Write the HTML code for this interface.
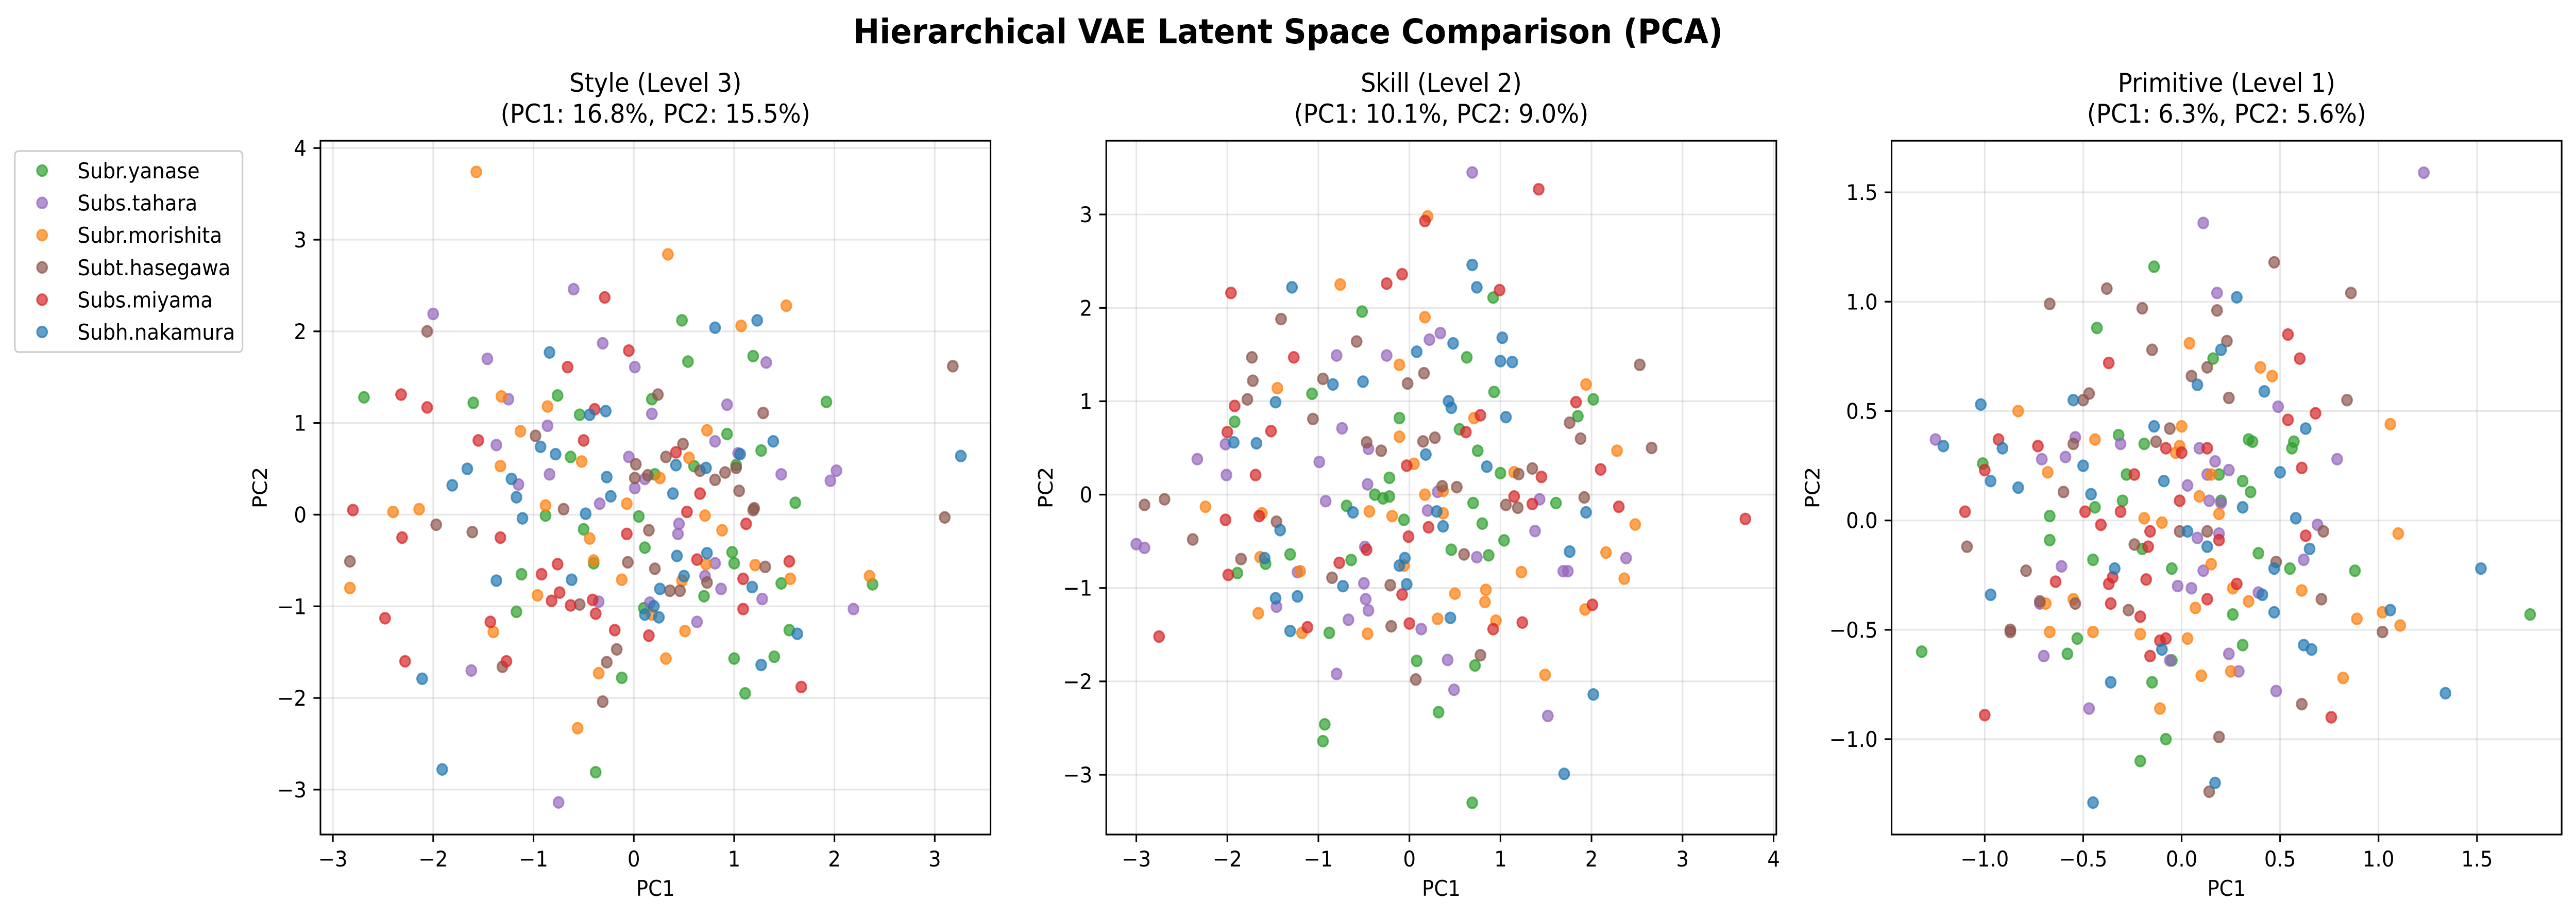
<!DOCTYPE html>
<html><head><meta charset="utf-8">
<style>
html,body{margin:0;padding:0;background:#fff;overflow:hidden;width:100vw;height:100vh;}
svg{display:block;width:100vw;height:100vh;font-family:"DejaVu Sans","Liberation Sans",sans-serif;}
</style></head>
<body>
<svg id="fig" xmlns="http://www.w3.org/2000/svg" viewBox="0 0 5386 1779" preserveAspectRatio="none">
<rect x="0" y="0" width="5386" height="1779" fill="#fff"/>
<text x="2693" y="84" text-anchor="middle" font-size="66" font-weight="bold">Hierarchical VAE Latent Space Comparison (PCA)</text>
<g id="legend"></g>
</svg>
<script>
const categories = ["Subr.yanase","Subs.tahara","Subr.morishita","Subt.hasegawa","Subs.miyama","Subh.nakamura"];
const panelTitles = ["Style (Level 3)","Skill (Level 2)","Primitive (Level 1)"];
const panelSubtitles = ["(PC1: 16.8%, PC2: 15.5%)","(PC1: 10.1%, PC2: 9.0%)","(PC1: 6.3%, PC2: 5.6%)"];
const xTicks1 = [-3,-2,-1,0,1,2,3];
const yTicks1 = [-3,-2,-1,0,1,2,3,4];
const xTicks2 = [-3,-2,-1,0,1,2,3,4];
const yTicks2 = [-3,-2,-1,0,1,2,3];
const xTicks3 = [-1.0,-0.5,0.0,0.5,1.0,1.5];
const yTicks3 = [-1.0,-0.5,0.0,0.5,1.0,1.5];
const xLim1 = [-3.124,3.556], yLim1 = [-3.49,4.08];
const xLim2 = [-3.33,4.03], yLim2 = [-3.64,3.79];
const xLim3 = [-1.473,1.93], yLim3 = [-1.436,1.736];

// Panel 1: Style
const styleYanase = [[-2.69,1.28],[-1.60,1.22],[-0.76,1.30],[-0.54,1.09],[-0.63,0.63],[0.18,1.26],[0.48,2.12],[0.54,1.67],[1.19,1.73],[1.92,1.23],[0.93,0.88],[1.27,0.70],[0.60,0.53],[0.21,0.44],[1.02,0.54],[1.61,0.13],[0.05,-0.02],[-0.88,-0.01],[-0.50,-0.16],[0.11,-0.36],[-0.40,-0.53],[-1.12,-0.65],[0.98,-0.41],[1.00,-0.53],[0.70,-0.89],[1.47,-0.75],[2.38,-0.76],[-1.17,-1.06],[0.10,-1.02],[1.00,-1.57],[1.40,-1.55],[1.55,-1.26],[1.11,-1.95],[-0.12,-1.78],[-0.38,-2.81]];
const styleTahara = [[-2.00,2.19],[-1.46,1.70],[-0.60,2.46],[-0.31,1.87],[0.01,1.61],[-1.25,1.26],[-0.86,0.97],[-1.37,0.76],[-1.15,0.33],[-0.84,0.44],[0.18,1.10],[-0.05,0.63],[0.01,0.29],[-0.34,0.12],[0.11,0.39],[0.93,1.20],[1.32,1.66],[0.81,0.80],[1.04,0.67],[1.47,0.44],[2.02,0.48],[1.96,0.37],[0.45,-0.10],[0.44,-0.21],[0.81,-0.53],[0.71,-0.67],[0.87,-0.81],[1.28,-0.92],[2.19,-1.03],[-0.35,-0.95],[0.16,-0.96],[0.63,-1.17],[-1.62,-1.70],[-0.75,-3.14]];
const styleMorishita = [[-1.57,3.74],[0.34,2.84],[1.52,2.28],[1.07,2.06],[-1.32,1.29],[-0.86,1.18],[-1.13,0.91],[-1.33,0.53],[-0.52,0.58],[0.26,0.40],[0.73,0.92],[0.55,0.62],[-0.88,0.10],[-0.07,0.12],[0.71,-0.01],[0.88,-0.17],[-2.40,0.03],[-2.14,0.06],[-2.83,-0.80],[-0.44,-0.26],[-0.40,-0.50],[-0.12,-0.71],[-0.96,-0.88],[-1.40,-1.28],[0.72,-0.54],[0.48,-0.72],[1.21,-0.55],[1.56,-0.70],[2.35,-0.67],[0.51,-1.27],[0.32,-1.57],[-0.35,-1.73],[-0.56,-2.33],[0.18,-1.09]];
const styleHasegawa = [[-2.06,2.00],[0.24,1.31],[-0.98,0.86],[0.02,0.55],[0.49,0.77],[0.32,0.63],[0.01,0.40],[0.14,0.43],[0.66,0.48],[0.81,0.38],[0.91,0.46],[1.02,0.51],[1.05,0.26],[1.20,0.07],[1.19,0.05],[1.29,1.11],[3.18,1.62],[3.10,-0.03],[-0.70,0.06],[-1.97,-0.11],[-1.61,-0.19],[0.15,-0.17],[-2.83,-0.51],[-0.06,-0.52],[0.21,-0.59],[0.73,-0.74],[1.31,-0.57],[0.36,-0.83],[0.46,-0.83],[-0.54,-0.98],[-0.17,-1.47],[-0.27,-1.61],[-1.31,-1.66],[-0.31,-2.04]];
const styleMiyama = [[-2.32,1.31],[-2.06,1.17],[-1.55,0.81],[-0.29,2.37],[-0.05,1.79],[-0.66,1.61],[-0.39,1.15],[-0.50,0.81],[0.42,0.68],[0.66,0.23],[0.53,0.03],[1.12,-0.10],[-2.80,0.05],[-2.31,-0.25],[-1.33,-0.25],[-0.07,-0.21],[-0.76,-0.54],[-0.92,-0.65],[-0.74,-0.85],[-0.82,-0.94],[-0.63,-0.99],[-0.41,-0.93],[-0.38,-1.08],[0.63,-0.49],[1.09,-0.70],[1.55,-0.51],[1.09,-1.03],[-2.48,-1.13],[-1.43,-1.17],[-0.19,-1.26],[0.15,-1.32],[-2.28,-1.60],[-1.27,-1.60],[1.67,-1.88]];
const styleNakamura = [[-0.84,1.77],[0.81,2.04],[1.23,2.12],[-0.44,1.09],[-0.28,1.13],[-0.93,0.74],[-0.78,0.66],[-1.66,0.50],[-1.81,0.32],[-1.22,0.39],[-1.17,0.19],[-0.27,0.41],[-0.23,0.20],[-0.48,0.01],[-1.11,-0.04],[0.42,0.54],[0.39,0.23],[0.72,0.51],[1.06,0.66],[1.39,0.80],[3.26,0.64],[-1.37,-0.72],[-0.62,-0.71],[0.43,-0.45],[0.73,-0.42],[0.50,-0.67],[0.26,-0.81],[1.18,-0.79],[0.11,-1.09],[0.20,-1.00],[0.25,-1.12],[1.63,-1.30],[1.27,-1.64],[-2.11,-1.79],[-1.91,-2.78]];

// Panel 2: Skill
const skillYanase = [[-0.52,1.96],[0.92,2.11],[0.63,1.47],[0.93,1.10],[-1.07,1.08],[-1.92,0.78],[-0.11,0.82],[0.55,0.70],[0.75,0.47],[1.00,0.23],[1.85,0.84],[2.02,1.02],[-0.22,0.18],[-0.38,0.00],[-0.29,-0.04],[-0.22,-0.02],[-0.69,-0.12],[-0.06,-0.27],[0.70,-0.09],[0.80,-0.31],[1.61,-0.09],[1.04,-0.49],[0.46,-0.59],[0.87,-0.65],[-1.31,-0.64],[-1.58,-0.74],[-1.89,-0.84],[-0.64,-0.70],[-0.88,-1.48],[0.08,-1.78],[0.72,-1.83],[0.32,-2.33],[-0.93,-2.46],[-0.95,-2.64],[0.69,-3.30]];
const skillTahara = [[0.69,3.45],[0.34,1.73],[0.22,1.66],[-0.80,1.49],[-0.25,1.49],[-0.74,0.71],[-2.02,0.54],[-0.45,0.49],[-2.33,0.38],[-0.99,0.35],[-2.01,0.21],[-0.46,0.11],[-0.92,-0.07],[0.31,0.03],[0.20,-0.17],[1.43,-0.05],[1.38,-0.39],[-3.00,-0.53],[-2.91,-0.57],[-0.49,-0.56],[-1.23,-0.83],[0.74,-0.67],[1.69,-0.82],[1.74,-0.82],[2.38,-0.68],[-0.50,-0.95],[-0.48,-1.12],[-0.45,-1.24],[-1.46,-1.20],[-0.67,-1.34],[0.13,-1.44],[0.42,-1.77],[-0.80,-1.92],[0.49,-2.09],[1.52,-2.37]];
const skillMorishita = [[0.20,2.98],[-0.76,2.25],[0.17,1.90],[-0.11,1.39],[-1.45,1.14],[0.71,0.82],[-0.11,0.62],[0.05,0.33],[0.17,0.00],[0.37,0.04],[0.37,-0.20],[-0.44,-0.18],[-0.19,-0.23],[-2.24,-0.13],[-1.62,-0.20],[1.15,0.24],[1.94,1.18],[2.28,0.47],[2.48,-0.32],[2.16,-0.62],[2.36,-0.90],[1.23,-0.83],[-0.06,-0.76],[-1.64,-0.67],[-1.20,-0.82],[-1.66,-1.27],[-1.18,-1.48],[-0.46,-1.49],[0.31,-1.33],[0.50,-1.06],[0.84,-1.02],[0.83,-1.15],[0.95,-1.35],[1.93,-1.23],[1.49,-1.93]];
const skillHasegawa = [[-1.41,1.88],[-0.58,1.64],[-1.73,1.47],[-1.72,1.22],[-0.95,1.24],[-1.78,1.02],[-0.02,1.19],[0.16,1.30],[-1.06,0.81],[-0.47,0.56],[-0.31,0.47],[0.15,0.57],[0.28,0.61],[0.36,0.09],[0.52,0.08],[1.20,0.22],[1.35,0.28],[1.06,-0.11],[1.19,-0.14],[1.92,-0.03],[1.76,0.77],[1.88,0.60],[2.53,1.39],[2.66,0.50],[-2.91,-0.11],[-2.69,-0.05],[-1.46,-0.29],[-2.38,-0.48],[-1.85,-0.69],[-0.85,-0.89],[-0.21,-0.97],[0.60,-0.64],[-0.20,-1.41],[0.78,-1.72],[0.07,-1.98]];
const skillMiyama = [[1.42,3.27],[0.17,2.93],[-0.08,2.36],[-0.25,2.26],[-1.96,2.16],[0.99,2.19],[-1.27,1.47],[-1.92,0.95],[-2.00,0.67],[-1.52,0.68],[-1.69,0.21],[0.78,0.85],[0.62,0.67],[-0.03,0.31],[1.83,0.99],[2.10,0.27],[1.45,0.19],[1.15,-0.02],[1.35,-0.10],[2.30,-0.13],[3.69,-0.26],[-2.02,-0.27],[-1.65,-0.23],[0.21,-0.35],[-0.01,-0.45],[-0.47,-0.59],[-0.77,-0.73],[-1.99,-0.86],[-0.08,-1.07],[0.00,-1.38],[-1.12,-1.42],[0.92,-1.44],[1.24,-1.37],[2.01,-1.18],[-2.75,-1.52]];
const skillNakamura = [[0.69,2.46],[0.74,2.22],[-1.29,2.22],[0.48,1.62],[0.08,1.53],[1.02,1.68],[1.00,1.43],[1.13,1.42],[-0.84,1.18],[-0.51,1.21],[-1.47,0.99],[0.43,1.00],[0.46,0.93],[1.06,0.83],[-1.93,0.56],[-1.68,0.55],[0.18,0.43],[0.85,0.30],[-0.62,-0.19],[0.30,-0.18],[0.37,-0.34],[-1.42,-0.38],[1.94,-0.19],[1.76,-0.61],[-1.59,-0.68],[-0.05,-0.68],[-0.11,-0.76],[-0.73,-0.98],[-0.03,-0.96],[-1.23,-1.09],[-1.47,-1.11],[-1.31,-1.46],[0.45,-1.32],[2.02,-2.14],[1.70,-2.99]];

// Panel 3: Primitive
const primYanase = [[-0.14,1.16],[-0.43,0.88],[0.16,0.74],[-0.32,0.39],[-0.19,0.35],[-1.01,0.26],[-0.28,0.21],[0.19,0.21],[0.34,0.37],[0.36,0.36],[0.57,0.36],[0.56,0.33],[0.31,0.18],[0.35,0.13],[0.20,0.09],[-0.30,0.09],[-0.44,0.06],[-0.67,0.02],[-0.67,-0.09],[-0.20,-0.13],[-0.45,-0.18],[-0.05,-0.22],[0.39,-0.15],[0.55,-0.22],[0.88,-0.23],[0.26,-0.43],[1.77,-0.43],[-0.53,-0.54],[-0.58,-0.61],[-1.32,-0.60],[0.31,-0.57],[-0.05,-0.64],[-0.15,-0.74],[-0.08,-1.00],[-0.21,-1.10]];
const primTahara = [[1.23,1.59],[0.11,1.36],[0.18,1.04],[0.49,0.52],[-1.25,0.37],[-0.54,0.38],[-0.31,0.35],[-0.71,0.28],[-0.59,0.29],[0.09,0.33],[0.17,0.27],[0.24,0.23],[0.13,0.21],[0.03,0.16],[0.14,0.09],[0.20,0.08],[0.79,0.28],[0.69,-0.02],[0.08,-0.08],[0.19,-0.06],[0.62,-0.18],[0.11,-0.23],[-0.61,-0.21],[-0.02,-0.30],[0.05,-0.31],[0.39,-0.33],[-0.72,-0.38],[0.24,-0.61],[0.29,-0.69],[-0.06,-0.64],[-0.70,-0.62],[0.48,-0.78],[-0.47,-0.86]];
const primMorishita = [[0.04,0.81],[0.40,0.70],[0.46,0.66],[-0.83,0.50],[0.00,0.43],[-0.44,0.37],[-0.01,0.34],[-0.03,0.31],[1.06,0.44],[-0.68,0.22],[0.15,0.21],[0.09,0.11],[0.19,0.03],[-0.19,0.01],[-0.10,-0.01],[1.10,-0.06],[0.15,-0.20],[0.26,-0.31],[0.61,-0.32],[0.34,-0.37],[0.07,-0.40],[-0.55,-0.36],[-0.69,-0.38],[1.02,-0.42],[1.11,-0.48],[0.89,-0.45],[-0.67,-0.51],[-0.45,-0.51],[-0.21,-0.52],[0.03,-0.54],[0.10,-0.71],[0.25,-0.69],[0.82,-0.72],[-0.11,-0.86]];
const primHasegawa = [[0.47,1.18],[-0.38,1.06],[0.86,1.04],[-0.67,0.99],[-0.20,0.97],[0.18,0.96],[0.23,0.82],[-0.15,0.78],[0.13,0.70],[0.05,0.66],[-0.47,0.58],[-0.50,0.55],[0.24,0.56],[0.84,0.55],[-0.06,0.42],[-0.13,0.36],[-0.55,0.35],[-0.60,0.13],[-1.09,-0.12],[-0.01,-0.05],[0.13,-0.05],[0.72,-0.05],[-0.24,-0.11],[0.48,-0.19],[-0.79,-0.23],[-0.72,-0.37],[-0.54,-0.38],[-0.27,-0.41],[0.71,-0.36],[-0.87,-0.50],[-0.87,-0.51],[1.02,-0.51],[0.61,-0.84],[0.19,-0.99],[0.14,-1.24]];
const primMiyama = [[0.54,0.85],[0.60,0.74],[-0.37,0.72],[0.68,0.49],[0.54,0.46],[-0.93,0.37],[-0.73,0.34],[-0.08,0.33],[0.00,0.31],[0.13,0.33],[-1.00,0.23],[0.61,0.24],[-0.24,0.21],[-0.01,0.09],[-1.10,0.04],[-0.49,0.04],[-0.31,0.04],[-0.41,-0.02],[-0.16,-0.05],[-0.17,-0.12],[0.19,-0.09],[0.63,-0.07],[-0.35,-0.26],[-0.64,-0.28],[-0.18,-0.27],[-0.37,-0.29],[0.28,-0.29],[-0.36,-0.38],[0.13,-0.36],[-0.21,-0.44],[-0.08,-0.54],[-0.11,-0.55],[-0.16,-0.62],[-1.00,-0.89],[0.76,-0.90]];
const primNakamura = [[0.28,1.02],[0.20,0.78],[0.08,0.62],[0.42,0.59],[-1.02,0.53],[-0.55,0.55],[-0.14,0.43],[0.63,0.42],[-1.21,0.34],[-0.91,0.33],[-0.50,0.25],[-0.97,0.18],[-0.83,0.15],[-0.09,0.18],[0.50,0.22],[-0.46,0.12],[0.31,0.06],[0.58,0.01],[0.03,-0.05],[0.65,-0.13],[0.13,-0.12],[0.47,-0.22],[-0.34,-0.22],[1.52,-0.22],[-0.97,-0.34],[0.41,-0.34],[0.47,-0.42],[1.06,-0.41],[0.62,-0.57],[0.66,-0.59],[-0.10,-0.59],[-0.36,-0.74],[1.34,-0.79],[0.17,-1.20],[-0.45,-1.29]];

const colors = ["#2ca02c","#9467bd","#ff7f0e","#8c564b","#d62728","#1f77b4"];
const NS = "http://www.w3.org/2000/svg";
const svg = document.getElementById('fig');

function mk(tag, attrs, parent){
  const e = document.createElementNS(NS, tag);
  for (const k in attrs) e.setAttribute(k, attrs[k]);
  (parent||svg).appendChild(e);
  return e;
}
function fmt(v, dec){
  const s = v.toFixed(dec);
  return (v < 0 ? "\u2212" + s.slice(1) : s);
}

const panels = [
  {left:670, series:[styleYanase,styleTahara,styleMorishita,styleHasegawa,styleMiyama,styleNakamura], xl:xLim1, yl:yLim1, xt:xTicks1, yt:yTicks1, dec:0, key:'style'},
  {left:2313, series:[skillYanase,skillTahara,skillMorishita,skillHasegawa,skillMiyama,skillNakamura], xl:xLim2, yl:yLim2, xt:xTicks2, yt:yTicks2, dec:0, key:'skill'},
  {left:3955, series:[primYanase,primTahara,primMorishita,primHasegawa,primMiyama,primNakamura], xl:xLim3, yl:yLim3, xt:xTicks3, yt:yTicks3, dec:1, key:'primitive'}
];
const W = 1401, TOP = 273, BOT = 1619, H = BOT - TOP;

panels.forEach((p, pi) => {
  const g = mk('g', {});
  
  
  const sx = v => p.left + (v - p.xl[0]) / (p.xl[1] - p.xl[0]) * W;
  const sy = v => BOT - (v - p.yl[0]) / (p.yl[1] - p.yl[0]) * H;
  p.xt.forEach(t => {
    const l = mk('line', {x1:sx(t), x2:sx(t), y1:TOP, y2:BOT, stroke:'#b0b0b0', 'stroke-opacity':0.3, 'stroke-width':3.3}, g);
    
    
  });
  p.yt.forEach(t => {
    const l = mk('line', {x1:p.left, x2:p.left+W, y1:sy(t), y2:sy(t), stroke:'#b0b0b0', 'stroke-opacity':0.3, 'stroke-width':3.3}, g);
    
    
  });
  p.series.forEach((pts, si) => {
    const sg = mk('g', {}, g);
    
    
    pts.forEach(pt => {
      const c = mk('circle', {cx:sx(pt[0]), cy:sy(pt[1]), r:10.5, fill:colors[si], 'fill-opacity':0.7, stroke:colors[si], 'stroke-opacity':0.7, 'stroke-width':3.5}, sg);
      
      
    });
  });
  const fr = mk('rect', {x:p.left, y:TOP, width:W, height:H, fill:'none', stroke:'#000', 'stroke-width':3.3}, g);
  
  
  p.xt.forEach(t => {
    const x = sx(t);
    mk('line', {x1:x, x2:x, y1:BOT, y2:BOT+14.6, stroke:'#000', 'stroke-width':3.3}, g);
    const tx = mk('text', {x:x, y:BOT+62, 'text-anchor':'middle', 'font-size':41.7}, g);
    tx.textContent = fmt(t, p.dec);
    
    
  });
  p.yt.forEach(t => {
    const y = sy(t);
    mk('line', {x1:p.left-14.6, x2:p.left, y1:y, y2:y, stroke:'#000', 'stroke-width':3.3}, g);
    const tx = mk('text', {x:p.left-29, y:y+15, 'text-anchor':'end', 'font-size':41.7}, g);
    tx.textContent = fmt(t, p.dec);
    
    
  });
  const xl = mk('text', {x:p.left+W/2, y:1738, 'text-anchor':'middle', 'font-size':41.7}, g);
  xl.textContent = 'PC1';
  
  
  const yoff = pi === 2 ? 166 : 127;
  const ylx = p.left - yoff + 15;
  const yl = mk('text', {x:ylx, y:(TOP+BOT)/2, 'text-anchor':'middle', 'font-size':41.7, transform:'rotate(-90 '+ylx+' '+((TOP+BOT)/2)+')'}, g);
  yl.textContent = 'PC2';
  
  
  const t1 = mk('text', {x:p.left+W/2, y:178, 'text-anchor':'middle', 'font-size':50}, g);
  t1.textContent = panelTitles[pi];
  
  
  const t2 = mk('text', {x:p.left+W/2, y:238, 'text-anchor':'middle', 'font-size':50}, g);
  t2.textContent = panelSubtitles[pi];
  
  
});

const lg = document.getElementById('legend');
svg.appendChild(lg);
const box = mk('rect', {x:31, y:293, width:476, height:390, rx:8, fill:'#fff', 'fill-opacity':0.8, stroke:'#cccccc', 'stroke-width':3.3}, lg);


categories.forEach((c, i) => {
  const y = 331 + i * 62.6;
  const eg = mk('g', {}, lg);
  
  
  mk('circle', {cx:88, cy:y, r:10.5, fill:colors[i], 'fill-opacity':0.7, stroke:colors[i], 'stroke-opacity':0.7, 'stroke-width':3.5}, eg);
  const t = mk('text', {x:162, y:y+15, 'font-size':41.7}, eg);
  t.textContent = c;
  
  
});
</script>
</body></html>
